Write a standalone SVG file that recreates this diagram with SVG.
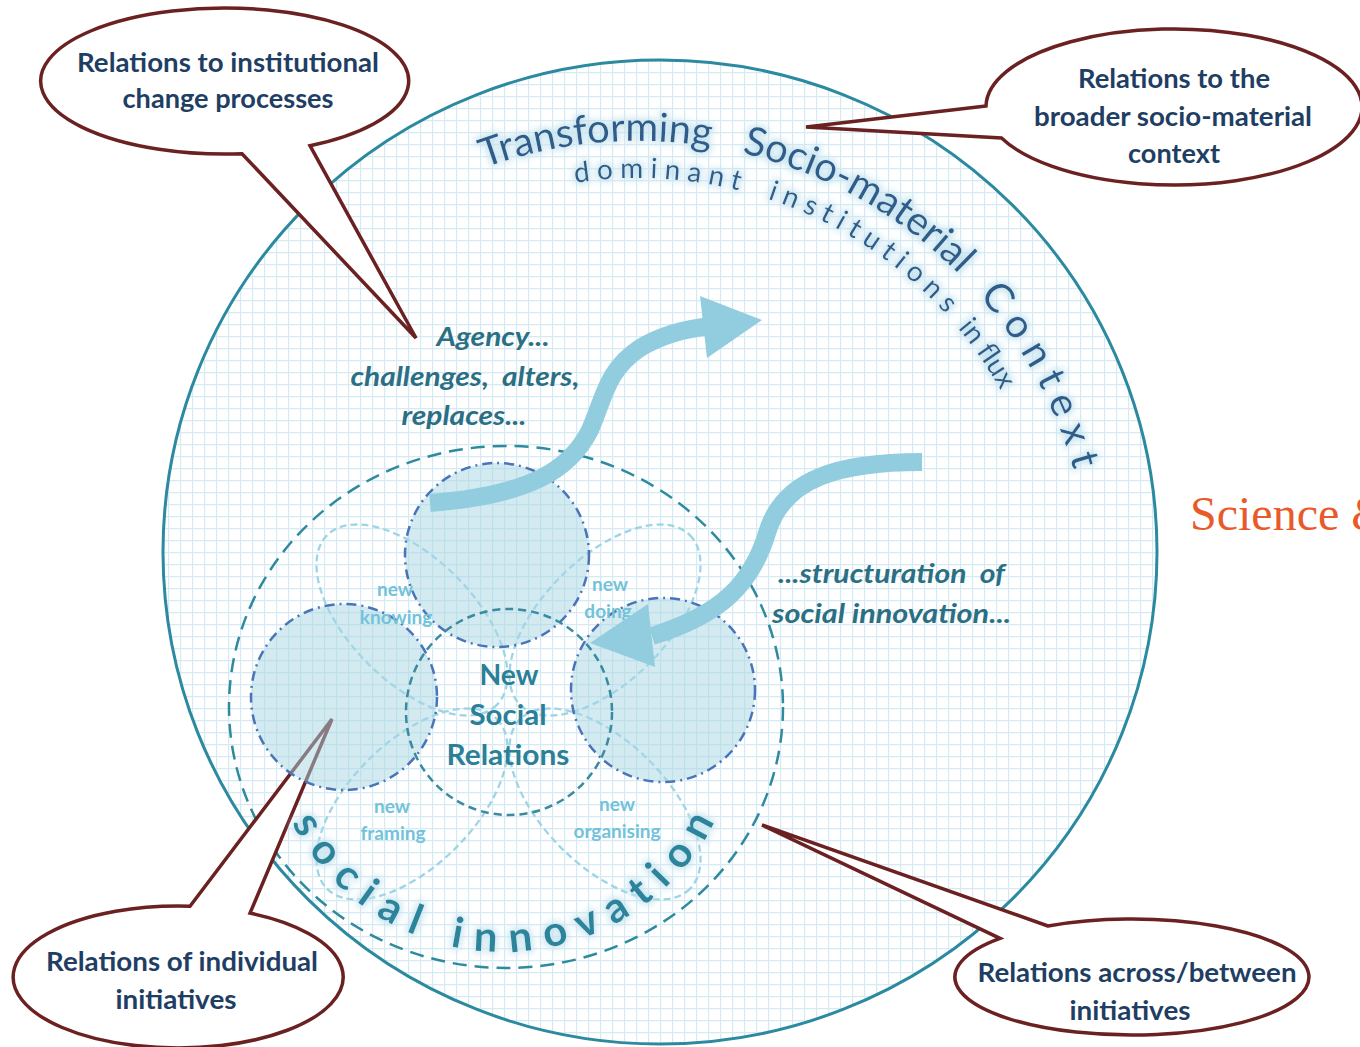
<svg xmlns="http://www.w3.org/2000/svg" width="1360" height="1047" viewBox="0 0 1360 1047">
<style>
.callout{fill:#fff;stroke:#6b2121;stroke-width:3.5;stroke-linejoin:miter}
.ct{font-family:Lato,"Liberation Sans",sans-serif;font-weight:bold;font-size:26px;fill:#1f3e63;text-anchor:middle}
.it{font-family:Lato,"Liberation Sans",sans-serif;font-weight:bold;font-style:italic;font-size:26px;fill:#2b6f84}
.ctr{font-family:Lato,"Liberation Sans",sans-serif;font-weight:bold;font-size:28px;fill:#2b7f97;text-anchor:middle}
.pt{font-family:Lato,"Liberation Sans",sans-serif;font-weight:bold;font-size:19px;fill:#72c2da;text-anchor:middle}
.ctx{font-family:Lato,"Liberation Sans",sans-serif;font-size:40px;fill:#2f5d8c}
.dom{font-family:Lato,"Liberation Sans",sans-serif;font-size:28px;fill:#2f5d8c}
.si{font-family:Lato,"Liberation Sans",sans-serif;font-weight:bold;font-size:42px;fill:#2c849c}
.fc{fill:#a8d5e3;fill-opacity:0.5;stroke:#4a74b8;stroke-width:2.5;stroke-dasharray:10 5 2 5}
.petal{fill:none;stroke:#9dd5e7;stroke-width:2.3;stroke-dasharray:7 4}
.arrow{fill:none;stroke:#92cddf;stroke-width:18}
</style>
<defs>
<pattern id="grid" width="12" height="12" patternUnits="userSpaceOnUse">
<rect width="12" height="12" fill="#fff"/>
<path d="M0 0.5H12M0.5 0V12" stroke="#d5eaf3" stroke-width="1.3"/>
</pattern>
<filter id="glow" x="-30%" y="-60%" width="160%" height="220%">
<feMorphology in="SourceAlpha" operator="dilate" radius="2" result="d"/>
<feGaussianBlur in="d" stdDeviation="3.5" result="b"/>
<feFlood flood-color="#c6e4ef"/>
<feComposite in2="b" operator="in" result="g"/>
<feMerge><feMergeNode in="g"/><feMergeNode in="SourceGraphic"/></feMerge>
</filter>
<path id="arcT1" d="M185,594 A453,453 0 0 1 1091,594"/>
<path id="arcT2" d="M222,594 A416,416 0 0 1 1054,594"/>
<path id="arcB" d="M266,715 A237,237 0 0 0 740,715"/>
</defs>
<rect width="1360" height="1047" fill="#fff"/>

<g id="context-circle">
<ellipse cx="660" cy="552" rx="497" ry="492" fill="url(#grid)" stroke="#2b8a9f" stroke-width="3"/>
</g>
<g id="social-innovation-circle">
<ellipse cx="506" cy="707" rx="277" ry="261" fill="none" stroke="#2e8a9e" stroke-width="2.5" stroke-dasharray="14 8"/>
</g>
<g id="petals">
<ellipse class="petal" cx="412" cy="620" rx="120" ry="62" transform="rotate(45 412 620)"/>
<ellipse class="petal" cx="605" cy="620" rx="120" ry="62" transform="rotate(-45 605 620)"/>
<ellipse class="petal" cx="412" cy="804" rx="120" ry="62" transform="rotate(-45 412 804)"/>
<ellipse class="petal" cx="605" cy="804" rx="120" ry="62" transform="rotate(45 605 804)"/>
</g>

<g id="callout-institutional">
<path class="callout" d="M242,153.7 L416,338 L310,145.7 A184,73 0 1 0 242,153.7 Z"/>
<text class="ct" x="228" y="72" textLength="302" lengthAdjust="spacingAndGlyphs">Relations to institutional</text>
<text class="ct" x="228" y="108" textLength="211" lengthAdjust="spacingAndGlyphs">change processes</text>
</g>
<g id="callout-context">
<path class="callout" d="M986,106 L806,127 L1001.5,138 A188,78 0 1 0 986,106 Z"/>
<text class="ct" x="1174" y="88" textLength="192" lengthAdjust="spacingAndGlyphs">Relations to the</text>
<text class="ct" x="1173" y="126" textLength="278" lengthAdjust="spacingAndGlyphs">broader socio-material</text>
<text class="ct" x="1174" y="163" textLength="92" lengthAdjust="spacingAndGlyphs">context</text>
</g>
<g id="callout-individual">
<path class="callout" d="M190,906.2 L332,719 L250,913.1 A165,71 0 1 1 190,906.2 Z"/>
<text class="ct" x="182" y="971" textLength="272" lengthAdjust="spacingAndGlyphs">Relations of individual</text>
<text class="ct" x="176" y="1009" textLength="121" lengthAdjust="spacingAndGlyphs">initiatives</text>
</g>
<g id="callout-across">
<path class="callout" d="M1048,926 L762,825 L1000,938.4 A177,58 0 1 0 1048,926 Z"/>
<text class="ct" x="1137" y="982" textLength="319" lengthAdjust="spacingAndGlyphs">Relations across/between</text>
<text class="ct" x="1130" y="1020" textLength="121" lengthAdjust="spacingAndGlyphs">initiatives</text>
</g>

<g id="initiative-top"><circle class="fc" cx="497" cy="555" r="92"/></g>
<g id="initiative-left"><circle class="fc" cx="344" cy="697" r="93"/></g>
<g id="initiative-right"><circle class="fc" cx="663" cy="690" r="92"/></g>
<g id="new-social-relations">
<circle cx="509" cy="712" r="103" fill="none" stroke="#3a8aa0" stroke-width="2.5" stroke-dasharray="8 5"/>
<text class="ctr" x="509" y="685" textLength="59" lengthAdjust="spacingAndGlyphs">New</text>
<text class="ctr" x="508" y="725" textLength="77" lengthAdjust="spacingAndGlyphs">Social</text>
<text class="ctr" x="508" y="765" textLength="123" lengthAdjust="spacingAndGlyphs">Relations</text>
</g>
<g id="petal-labels">
<text class="pt" x="395" y="596">new</text>
<text class="pt" x="396" y="624">knowing</text>
<text class="pt" x="610" y="591">new</text>
<text class="pt" x="608" y="618">doing</text>
<text class="pt" x="392" y="813">new</text>
<text class="pt" x="393" y="840">framing</text>
<text class="pt" x="617" y="811">new</text>
<text class="pt" x="617" y="838">organising</text>
</g>

<g id="curved-labels" filter="url(#glow)">
<text class="ctx"><textPath href="#arcT1" startOffset="555">Transforming</textPath></text>
<text class="ctx"><textPath href="#arcT1" startOffset="816">Socio-material</textPath></text>
<text class="ctx" letter-spacing="10"><textPath href="#arcT1" startOffset="1097">Context</textPath></text>
<text class="dom" letter-spacing="7"><textPath href="#arcT2" startOffset="590">dominant</textPath></text>
<text class="dom" letter-spacing="7"><textPath href="#arcT2" startOffset="785">institutions</textPath></text>
<text class="dom"><textPath href="#arcT2" startOffset="1018">in flux</textPath></text>
<text class="si" letter-spacing="13"><textPath href="#arcB" startOffset="112">social innovation</textPath></text>
</g>

<g id="agency-label">
<text class="it" x="493" y="346" text-anchor="middle" textLength="113" lengthAdjust="spacingAndGlyphs">Agency...</text>
<text class="it" x="465" y="386" text-anchor="middle" xml:space="preserve" textLength="229" lengthAdjust="spacingAndGlyphs">challenges,  alters,</text>
<text class="it" x="464" y="425" text-anchor="middle" textLength="125" lengthAdjust="spacingAndGlyphs">replaces...</text>
</g>
<g id="structuration-label">
<text class="it" x="778" y="583" xml:space="preserve" textLength="227" lengthAdjust="spacingAndGlyphs">...structuration  of</text>
<text class="it" x="772" y="623" textLength="239" lengthAdjust="spacingAndGlyphs">social innovation...</text>
</g>

<g id="connectors">
<path class="arrow" d="M430,503 C530,495 570,470 590,430 C605,395 607,370 640,348 C665,333 690,328 712,326"/>
<polygon points="700,296 762,320 707,358" fill="#92cddf"/>
<path class="arrow" d="M922,462 C840,462 785,478 768,530 C752,585 720,615 652,636"/>
<polygon points="648,604 590,643 655,667" fill="#92cddf"/>
</g>

<text x="1190" y="530" font-family="'Liberation Serif',serif" font-size="48" fill="#e85a2a">Science &amp;</text>
</svg>
